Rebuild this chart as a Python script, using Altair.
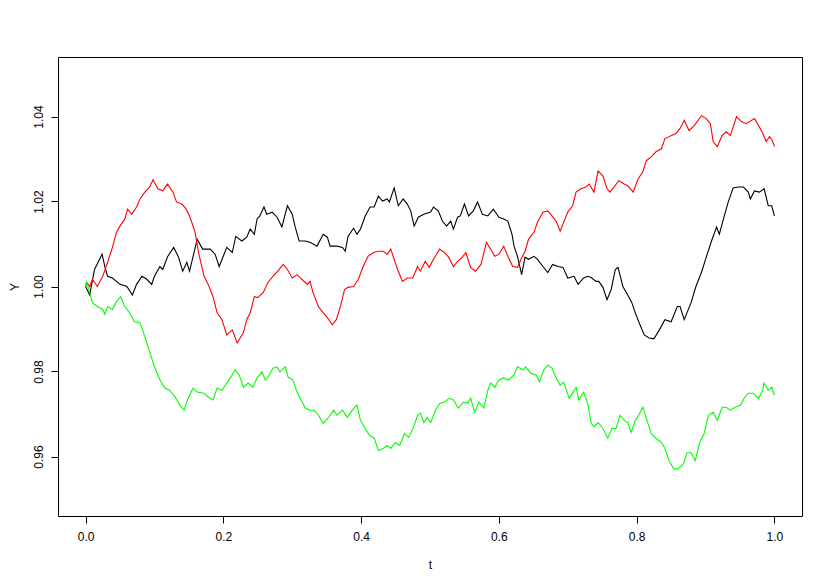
import altair as alt
import pandas as pd

# ---- data ----
t_black = [0.000, 0.006, 0.013, 0.024, 0.028, 0.032, 0.039, 0.050, 0.060, 0.068,
           0.074, 0.082, 0.089, 0.096, 0.100, 0.108, 0.112, 0.119, 0.128, 0.135,
           0.141, 0.147, 0.151, 0.162, 0.170, 0.181, 0.188, 0.194, 0.205, 0.213,
           0.218, 0.227, 0.234, 0.239, 0.245, 0.249, 0.253, 0.259, 0.263, 0.271,
           0.278, 0.285, 0.293, 0.300, 0.304, 0.310, 0.319, 0.326, 0.336, 0.345,
           0.351, 0.355, 0.365, 0.373, 0.377, 0.381, 0.389, 0.394, 0.399, 0.406,
           0.413, 0.419, 0.425, 0.431, 0.438, 0.441, 0.448, 0.454, 0.461, 0.467,
           0.472, 0.477, 0.483, 0.491, 0.501, 0.505, 0.512, 0.518, 0.524, 0.530,
           0.534, 0.540, 0.544, 0.550, 0.556, 0.563, 0.569, 0.576, 0.584, 0.592,
           0.600, 0.607, 0.613, 0.619, 0.622, 0.627, 0.633, 0.638, 0.643, 0.651,
           0.656, 0.664, 0.671, 0.678, 0.686, 0.693, 0.700, 0.709, 0.715, 0.723,
           0.729, 0.734, 0.741, 0.745, 0.751, 0.757, 0.763, 0.769, 0.773, 0.780,
           0.787, 0.793, 0.798, 0.803, 0.811, 0.818, 0.825, 0.833, 0.841, 0.850,
           0.859, 0.863, 0.869, 0.879, 0.886, 0.894, 0.901, 0.908, 0.916, 0.920,
           0.926, 0.933, 0.940, 0.948, 0.955, 0.962, 0.965, 0.971, 0.978, 0.985,
           0.991, 0.996, 1.000]
y_black = [1.0000, 0.9980, 1.0040, 1.0076, 1.0047, 1.0024, 1.0020, 1.0005, 1.0000, 0.9980,
           1.0005, 1.0024, 1.0017, 1.0005, 1.0024, 1.0047, 1.0040, 1.0070, 1.0092, 1.0069,
           1.0036, 1.0057, 1.0036, 1.0111, 1.0088, 1.0088, 1.0076, 1.0047, 1.0092, 1.0080,
           1.0118, 1.0107, 1.0116, 1.0135, 1.0123, 1.0159, 1.0166, 1.0187, 1.0170, 1.0175,
           1.0163, 1.0140, 1.0190, 1.0170, 1.0142, 1.0107, 1.0107, 1.0104, 1.0095, 1.0123,
           1.0116, 1.0095, 1.0095, 1.0092, 1.0083, 1.0118, 1.0137, 1.0123, 1.0135, 1.0166,
           1.0187, 1.0187, 1.0213, 1.0201, 1.0206, 1.0199, 1.0232, 1.0190, 1.0206, 1.0194,
           1.0178, 1.0142, 1.0163, 1.0170, 1.0175, 1.0187, 1.0178, 1.0154, 1.0142, 1.0154,
           1.0135, 1.0163, 1.0166, 1.0194, 1.0166, 1.0178, 1.0199, 1.0170, 1.0166, 1.0182,
           1.0163, 1.0159, 1.0154, 1.0123, 1.0095, 1.0071, 1.0028, 1.0069, 1.0064, 1.0071,
           1.0064, 1.0047, 1.0033, 1.0052, 1.0047, 1.0045, 1.0020, 1.0024, 1.0005, 1.0020,
           1.0024, 1.0021, 1.0012, 1.0012, 0.9998, 0.9969, 0.9993, 1.0040, 1.0045, 1.0000,
           0.9980, 0.9962, 0.9938, 0.9917, 0.9886, 0.9879, 0.9877, 0.9898, 0.9922, 0.9917,
           0.9953, 0.9953, 0.9922, 0.9962, 1.0000, 1.0033, 1.0069, 1.0104, 1.0140, 1.0123,
           1.0159, 1.0199, 1.0232, 1.0234, 1.0234, 1.0222, 1.0206, 1.0225, 1.0222, 1.0230,
           1.0190, 1.0190, 1.0166]

t_red = [0.000, 0.0015, 0.006, 0.010, 0.017, 0.025, 0.032, 0.039, 0.045, 0.050,
         0.057, 0.061, 0.067, 0.074, 0.079, 0.086, 0.093, 0.098, 0.105, 0.112,
         0.119, 0.127, 0.132, 0.140, 0.146, 0.151, 0.159, 0.164, 0.172, 0.178,
         0.185, 0.191, 0.198, 0.205, 0.213, 0.220, 0.229, 0.234, 0.239, 0.245,
         0.250, 0.258, 0.265, 0.272, 0.279, 0.287, 0.293, 0.300, 0.307, 0.314,
         0.322, 0.326, 0.330, 0.338, 0.345, 0.351, 0.358, 0.364, 0.370, 0.376,
         0.381, 0.389, 0.396, 0.403, 0.410, 0.418, 0.425, 0.432, 0.438, 0.443,
         0.448, 0.453, 0.460, 0.467, 0.475, 0.482, 0.486, 0.493, 0.499, 0.505,
         0.514, 0.521, 0.527, 0.534, 0.540, 0.547, 0.552, 0.559, 0.566, 0.574,
         0.582, 0.588, 0.594, 0.600, 0.607, 0.613, 0.620, 0.627, 0.632, 0.638,
         0.643, 0.651, 0.656, 0.664, 0.671, 0.677, 0.683, 0.689, 0.694, 0.700,
         0.707, 0.712, 0.719, 0.726, 0.731, 0.738, 0.744, 0.751, 0.757, 0.761,
         0.767, 0.774, 0.782, 0.787, 0.795, 0.802, 0.809, 0.814, 0.821, 0.828,
         0.836, 0.841, 0.850, 0.857, 0.863, 0.869, 0.876, 0.884, 0.894, 0.901,
         0.907, 0.911, 0.917, 0.924, 0.930, 0.936, 0.945, 0.952, 0.959, 0.971,
         0.977, 0.983, 0.988, 0.993, 0.997, 1.000]
y_red = [1.0000, 1.0010, 1.0000, 1.0017, 1.0000, 1.0024, 1.0057, 1.0092, 1.0128, 1.0142,
         1.0159, 1.0182, 1.0170, 1.0187, 1.0206, 1.0222, 1.0234, 1.0251, 1.0230, 1.0225,
         1.0241, 1.0222, 1.0199, 1.0194, 1.0182, 1.0166, 1.0128, 1.0080, 1.0024, 1.0005,
         0.9976, 0.9938, 0.9922, 0.9886, 0.9898, 0.9867, 0.9891, 0.9922, 0.9938, 0.9976,
         0.9974, 0.9986, 1.0010, 1.0024, 1.0036, 1.0052, 1.0040, 1.0020, 1.0028, 1.0017,
         1.0005, 1.0012, 0.9986, 0.9953, 0.9938, 0.9927, 0.9910, 0.9922, 0.9953, 0.9993,
         0.9998, 1.0000, 1.0017, 1.0047, 1.0071, 1.0080, 1.0083, 1.0083, 1.0076, 1.0088,
         1.0064, 1.0040, 1.0012, 1.0020, 1.0020, 1.0047, 1.0036, 1.0059, 1.0045, 1.0064,
         1.0088, 1.0080, 1.0069, 1.0047, 1.0059, 1.0069, 1.0080, 1.0045, 1.0036, 1.0052,
         1.0104, 1.0088, 1.0071, 1.0076, 1.0095, 1.0071, 1.0047, 1.0045, 1.0064, 1.0083,
         1.0111, 1.0128, 1.0151, 1.0175, 1.0178, 1.0166, 1.0154, 1.0130, 1.0151, 1.0175,
         1.0190, 1.0222, 1.0230, 1.0234, 1.0241, 1.0222, 1.0272, 1.0260, 1.0230, 1.0222,
         1.0234, 1.0249, 1.0241, 1.0237, 1.0222, 1.0253, 1.0270, 1.0296, 1.0305, 1.0317,
         1.0324, 1.0348, 1.0355, 1.0360, 1.0372, 1.0391, 1.0367, 1.0379, 1.0402, 1.0395,
         1.0383, 1.0341, 1.0329, 1.0355, 1.0364, 1.0355, 1.0400, 1.0388, 1.0383, 1.0395,
         1.0379, 1.0360, 1.0341, 1.0353, 1.0343, 1.0329]

t_green = [0.000, 0.0015, 0.006, 0.010, 0.017, 0.025, 0.028, 0.032, 0.039, 0.045,
           0.051, 0.057, 0.064, 0.071, 0.079, 0.086, 0.093, 0.100, 0.108, 0.115,
           0.122, 0.130, 0.137, 0.143, 0.148, 0.156, 0.163, 0.172, 0.178, 0.185,
           0.191, 0.198, 0.205, 0.213, 0.217, 0.223, 0.229, 0.236, 0.243, 0.249,
           0.256, 0.261, 0.265, 0.272, 0.278, 0.282, 0.290, 0.294, 0.301, 0.307,
           0.313, 0.319, 0.326, 0.332, 0.338, 0.345, 0.352, 0.360, 0.365, 0.373,
           0.380, 0.387, 0.394, 0.399, 0.406, 0.412, 0.419, 0.425, 0.432, 0.438,
           0.443, 0.450, 0.456, 0.463, 0.469, 0.476, 0.482, 0.486, 0.491, 0.496,
           0.501, 0.508, 0.514, 0.521, 0.528, 0.534, 0.541, 0.549, 0.555, 0.559,
           0.565, 0.571, 0.578, 0.584, 0.588, 0.594, 0.600, 0.607, 0.614, 0.622,
           0.627, 0.635, 0.639, 0.646, 0.654, 0.659, 0.665, 0.671, 0.677, 0.683,
           0.689, 0.694, 0.702, 0.707, 0.712, 0.716, 0.723, 0.729, 0.734, 0.738,
           0.744, 0.751, 0.758, 0.764, 0.770, 0.776, 0.782, 0.787, 0.792, 0.798,
           0.803, 0.809, 0.815, 0.821, 0.828, 0.836, 0.841, 0.847, 0.854, 0.860,
           0.868, 0.873, 0.879, 0.885, 0.891, 0.898, 0.904, 0.911, 0.917, 0.924,
           0.930, 0.936, 0.943, 0.951, 0.956, 0.962, 0.969, 0.977, 0.983, 0.985,
           0.991, 0.996, 1.000]
y_green = [1.0000, 1.0010, 0.9986, 0.9962, 0.9953, 0.9946, 0.9934, 0.9953, 0.9946, 0.9965,
           0.9976, 0.9953, 0.9938, 0.9917, 0.9915, 0.9882, 0.9846, 0.9811, 0.9780, 0.9761,
           0.9756, 0.9740, 0.9721, 0.9709, 0.9733, 0.9761, 0.9751, 0.9749, 0.9740, 0.9733,
           0.9761, 0.9756, 0.9773, 0.9792, 0.9804, 0.9792, 0.9763, 0.9773, 0.9763, 0.9785,
           0.9799, 0.9780, 0.9787, 0.9808, 0.9811, 0.9799, 0.9811, 0.9787, 0.9780, 0.9751,
           0.9733, 0.9714, 0.9709, 0.9709, 0.9697, 0.9678, 0.9690, 0.9709, 0.9697, 0.9709,
           0.9692, 0.9709, 0.9721, 0.9685, 0.9666, 0.9650, 0.9643, 0.9614, 0.9619, 0.9626,
           0.9619, 0.9633, 0.9626, 0.9654, 0.9645, 0.9669, 0.9697, 0.9702, 0.9680, 0.9692,
           0.9680, 0.9709, 0.9725, 0.9728, 0.9737, 0.9733, 0.9714, 0.9728, 0.9725, 0.9737,
           0.9704, 0.9728, 0.9714, 0.9756, 0.9773, 0.9763, 0.9780, 0.9785, 0.9780, 0.9792,
           0.9811, 0.9804, 0.9811, 0.9796, 0.9792, 0.9775, 0.9804, 0.9815, 0.9808, 0.9785,
           0.9768, 0.9775, 0.9737, 0.9749, 0.9763, 0.9733, 0.9751, 0.9725, 0.9678, 0.9670,
           0.9680, 0.9666, 0.9643, 0.9666, 0.9666, 0.9697, 0.9685, 0.9680, 0.9657, 0.9685,
           0.9697, 0.9716, 0.9685, 0.9654, 0.9643, 0.9633, 0.9619, 0.9590, 0.9571, 0.9571,
           0.9583, 0.9609, 0.9609, 0.9590, 0.9631, 0.9654, 0.9697, 0.9704, 0.9685, 0.9716,
           0.9716, 0.9709, 0.9716, 0.9721, 0.9737, 0.9749, 0.9749, 0.9737, 0.9756, 0.9773,
           0.9756, 0.9763, 0.9744]

x_ticks = [0.0, 0.2, 0.4, 0.6, 0.8, 1.0]
y_ticks = [0.96, 0.98, 1.00, 1.02, 1.04]
x_domain = [-0.04, 1.04]
y_domain = [0.946, 1.054]

FONT = "Liberation Sans"

x_enc = alt.X(
    "t:Q",
    title="t",
    scale=alt.Scale(domain=x_domain, nice=False, zero=False),
    axis=alt.Axis(values=x_ticks, format=".1f", labelPadding=8, titlePadding=17),
)
y_enc = alt.Y(
    "Y:Q",
    title="Y",
    scale=alt.Scale(domain=y_domain, nice=False, zero=False),
    axis=alt.Axis(values=y_ticks, format=".2f", labelAngle=-90, labelAlign="center",
                  labelBaseline="bottom", labelPadding=6, titlePadding=11),
)


def path(ts, ys, color):
    df = pd.DataFrame({"t": ts, "Y": ys})
    return alt.Chart(df).mark_line(color=color, strokeWidth=1.1).encode(x=x_enc, y=y_enc)


chart = alt.layer(
    path(t_black, y_black, "#000000"),
    path(t_red, y_red, "#FF0000"),
    path(t_green, y_green, "#00FF00"),
).properties(
    width=744,
    height=459,
    autosize=alt.AutoSizeParams(type="none"),
    padding={"left": 50, "top": 49, "right": 20, "bottom": 64},
    background="white",
).configure_view(
    stroke="black", strokeWidth=1
).configure_axis(
    domain=False, grid=False, ticks=True, tickSize=7, tickColor="black", tickWidth=1,
    labelFont=FONT, labelFontSize=12, labelColor="black",
    titleFont=FONT, titleFontSize=12, titleFontWeight="normal", titleColor="black",
)

chart.save("out.html", embed_options={"renderer": "svg", "actions": False})
